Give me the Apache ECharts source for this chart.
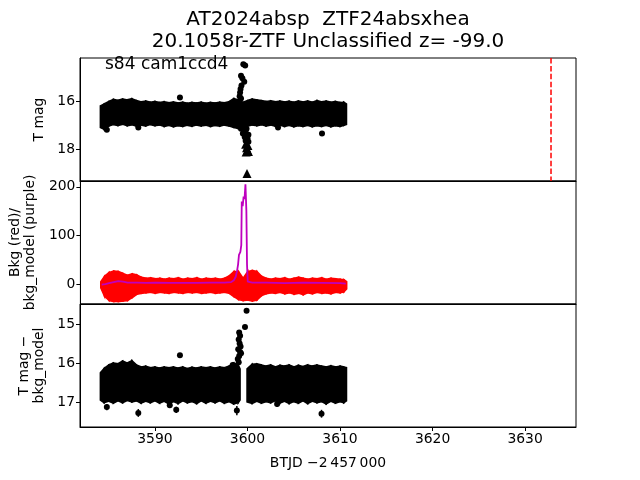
<!DOCTYPE html>
<html><head><meta charset="utf-8">
<script src="https://cdn.jsdelivr.net/npm/echarts@6/dist/echarts.min.js"></script>
<style>html,body{margin:0;padding:0;background:#fff}#c{width:640px;height:480px}</style>
</head><body><div id="c"></div>
<script>
// ---- data ----
var xTicks = [3590, 3600, 3610, 3620, 3630];
var topTicks = [16, 18];
var midTicks = [0, 100, 200];
var botTicks = [15, 16, 17];

// top panel: dense photometry band (time, bright edge, faint edge)
var topT = [3584.1,3584.5,3585.0,3585.5,3586.0,3586.5,3587.0,3587.5,3588.0,3588.5,3589.0,3589.5,3590.0,3590.5,3591.0,3591.5,3592.0,3592.5,3593.0,3593.5,3594.0,3594.5,3595.0,3595.5,3596.0,3596.5,3597.0,3597.5,3598.0,3598.5,3599.0,3599.5,3600.0,3600.5,3601.0,3601.5,3602.0,3602.5,3603.0,3603.5,3604.0,3604.5,3605.0,3605.5,3606.0,3606.5,3607.0,3607.5,3608.0,3608.5,3609.0,3609.5,3610.0,3610.4,3610.7];
var topUp = [16.2,16.12,16.02,15.93,15.97,15.92,15.95,15.9,15.98,16.03,16.0,16.05,16.02,16.06,16.03,16.07,16.04,16.08,16.05,16.09,16.06,16.08,16.05,16.09,16.06,16.08,16.05,16.07,16.03,15.9,15.95,16.05,15.98,15.92,15.95,15.98,16.02,15.99,16.03,16.0,16.04,16.01,16.05,16.0,16.04,16.0,16.05,15.98,16.03,16.0,16.05,16.02,16.06,16.05,16.12];
var topLo = [17.1,17.18,17.05,16.98,17.02,16.97,17.03,16.99,17.05,17.0,17.04,16.98,17.03,17.0,17.06,17.02,17.07,17.03,17.06,17.01,17.05,17.0,17.04,17.01,17.06,17.02,17.05,17.0,17.04,17.1,17.15,17.1,17.05,17.0,17.03,16.99,17.04,17.0,17.05,17.01,17.06,17.02,17.07,17.03,17.06,17.02,17.07,17.03,17.06,17.02,17.07,17.03,17.06,17.02,16.98];
// top panel: individual points (time, mag, err)
var topPts = [[3592.7,15.85,0.05],[3588.2,17.1,0.08],[3584.8,17.2,0.08],[3603.3,17.1,0.06],[3608.05,17.35,0.1],
  [3599.55,14.47,0.03],[3599.75,14.52,0.03],[3599.3,14.95,0.04],[3599.45,15.05,0.04],[3599.65,15.2,0.05],[3599.35,15.35,0.05],[3599.25,15.5,0.05],[3599.2,15.65,0.05],[3599.15,15.8,0.06],[3599.3,15.9,0.06],
  [3599.3,17.15,0.1],[3599.6,17.2,0.1],[3599.9,17.15,0.1],[3599.5,17.35,0.1],[3599.85,17.35,0.1],[3600.1,17.4,0.1],[3599.7,17.5,0.1],[3600.0,17.55,0.1],[3599.8,17.65,0.1],[3600.1,17.7,0.1]];
var topLim = [[3599.8,17.8],[3600.05,17.85],[3599.9,17.95],[3600.0,18.05],[3599.85,18.12],[3600.1,18.1],[3599.95,19.02]];
var markerT = [3632.8];

// middle panel: background (red band) and background model (purple line)
var midT = topT;
var bkgUp = [5,16,24,27,26,22,18,21,19,14,12,13,11,12,10,12,11,13,10,12,11,13,10,12,11,12,10,12,17,26,26,12,26,28,26,16,12,10,12,11,13,10,12,14,12,10,12,11,13,10,12,11,10,9,5];
var bkgLo = [-8,-25,-34,-36,-36,-35,-34,-28,-21,-19,-18,-17,-19,-17,-18,-19,-17,-18,-19,-17,-18,-17,-19,-18,-17,-19,-18,-17,-19,-26,-32,-34,-33,-35,-33,-24,-20,-18,-19,-17,-20,-18,-21,-19,-22,-18,-20,-17,-19,-18,-20,-17,-18,-16,-10];
var modelT = [3584.2,3584.6,3585.0,3585.5,3586.0,3586.5,3587.0,3588.0,3589.0,3590.0,3591.5,3593.0,3594.5,3596.0,3597.5,3598.2,3598.5,3598.7,3598.85,3598.95,3599.05,3599.2,3599.3,3599.35,3599.45,3599.55,3599.65,3599.75,3599.85,3599.92,3600.0,3600.5,3602.0,3604.0,3606.0,3608.0,3610.0,3610.6];
var modelV = [-1,0,2,4,6,5,3,3,2.5,3,2.5,2.5,2.5,3,3,4,8,15,28,40,60,66,80,170,160,180,175,205,150,40,5,3,3,2,3,2.5,2,1];

// bottom panel: background-subtracted band, two segments around the gap
var botTA = [3584.1,3584.5,3585.0,3585.5,3586.0,3586.5,3587.0,3587.5,3588.0,3588.5,3589.0,3589.5,3590.0,3590.5,3591.0,3591.5,3592.0,3592.5,3593.0,3593.5,3594.0,3594.5,3595.0,3595.5,3596.0,3596.5,3597.0,3597.5,3598.0,3598.5,3599.0,3599.2];
var botUpA = [16.25,16.14,16.05,16.0,16.02,15.95,16.0,15.94,16.05,16.1,16.08,16.12,16.1,16.13,16.1,16.12,16.1,16.13,16.1,16.14,16.11,16.13,16.1,16.12,16.1,16.13,16.1,16.12,16.08,16.0,16.05,16.15];
var botLoA = [16.95,17.02,16.98,17.03,16.97,17.02,16.96,17.0,16.97,17.03,16.98,17.02,16.97,17.03,16.98,17.05,16.99,17.04,16.97,17.02,16.99,17.04,16.97,17.03,16.98,17.02,16.97,17.03,16.99,17.05,17.02,16.95];
var botTB = [3599.95,3600.5,3601.0,3601.5,3602.0,3602.5,3603.0,3603.5,3604.0,3604.5,3605.0,3605.5,3606.0,3606.5,3607.0,3607.5,3608.0,3608.5,3609.0,3609.5,3610.0,3610.4,3610.7];
var botUpB = [16.15,16.03,16.02,16.05,16.08,16.05,16.1,16.06,16.08,16.05,16.1,16.06,16.09,16.05,16.08,16.05,16.08,16.1,16.07,16.1,16.08,16.1,16.12];
var botLoB = [17.0,17.04,16.98,17.03,16.99,17.02,16.97,17.03,16.98,17.04,16.99,17.03,16.97,17.04,16.98,17.02,16.99,17.05,16.98,17.03,16.99,17.02,16.97];
var botPts = [[3592.7,15.8,0.05],[3588.2,17.28,0.1],[3584.8,17.13,0.08],[3591.6,17.08,0.06],[3592.3,17.2,0.08],[3598.85,17.22,0.12],[3603.2,17.05,0.08],[3608.0,17.3,0.1],
  [3599.9,14.66,0.03],[3599.73,15.08,0.04],[3599.1,15.22,0.05],[3599.2,15.3,0.05],[3599.05,15.4,0.05],[3599.15,15.5,0.05],[3599.25,15.58,0.05],[3599.0,15.65,0.05],[3599.2,15.72,0.05],[3599.3,15.75,0.05],[3599.1,15.82,0.05],[3598.95,15.9,0.05],[3599.05,15.98,0.05],[3598.4,16.05,0.05]];

// ---- chart ----
var X0 = 3581.9, X1 = 3635.5;
var FS = 13.9, FF = 'DejaVu Sans';
function bandItems(t, up, lo){ var a=[]; for(var i=0;i<t.length;i++) a.push([t[i], up[i], lo[i]]); return a; }
function bandSeries(items, xi, color){
  return {type:'custom', xAxisIndex:xi, yAxisIndex:xi, clip:true, silent:true,
    data: items,
    renderItem: function(params, api){
      var i = params.dataIndex;
      if (i >= items.length-1) return null;
      var a = items[i], b = items[i+1];
      var p = [api.coord([a[0],a[1]]), api.coord([b[0],b[1]]), api.coord([b[0],b[2]]), api.coord([a[0],a[2]])];
      return {type:'polygon', shape:{points:p}, style:{fill:color, stroke:color, lineWidth:1.5}};
    }};
}
function errSeries(pts, xi){
  return {type:'custom', xAxisIndex:xi, yAxisIndex:xi, clip:true, silent:true, data: pts,
    renderItem: function(params, api){
      var t=api.value(0), m=api.value(1), e=api.value(2);
      var p1=api.coord([t,m-e]), p2=api.coord([t,m+e]);
      return {type:'line', shape:{x1:p1[0],y1:p1[1],x2:p2[0],y2:p2[1]}, style:{stroke:'#000', lineWidth:1.5}};
    }};
}
function plain(v){ return String(v); }
function xAxis(gi, labels){
  return {type:'value', gridIndex:gi, min:X0, max:X1, splitLine:{show:false},
    axisLine:{show:true, onZero:false, lineStyle:{color:'#000'}},
    axisTick:{show:labels, customValues:xTicks, length:4, lineStyle:{color:'#000'}},
    axisLabel:{show:labels, customValues:xTicks, formatter:plain, color:'#000', fontSize:FS, fontFamily:FF, margin:5}};
}
function yAxis(gi, min, max, inv, ticks, name, gap){
  return {type:'value', gridIndex:gi, min:min, max:max, inverse:inv, splitLine:{show:false},
    axisLine:{show:true, onZero:false, lineStyle:{color:'#000'}},
    axisTick:{show:true, customValues:ticks, length:4, lineStyle:{color:'#000'}},
    axisLabel:{customValues:ticks, formatter:plain, color:'#000', fontSize:FS, fontFamily:FF, margin:5},
    name:name, nameLocation:'middle', nameGap:gap, nameRotate:90,
    nameTextStyle:{color:'#000', fontSize:FS, fontFamily:FF, lineHeight:15}};
}
var chart = echarts.init(document.getElementById('c'), null, {renderer:'canvas'});
var txt = {fontFamily:FF, fill:'#000'};
chart.setOption({
  animation:false,
  backgroundColor:'#fff',
  grid:[
    {left:80, top:58, width:496, height:123, show:true, borderColor:'#000', borderWidth:1, backgroundColor:'transparent'},
    {left:80, top:181, width:496, height:123, show:true, borderColor:'#000', borderWidth:1, backgroundColor:'transparent'},
    {left:80, top:304, width:496, height:123, show:true, borderColor:'#000', borderWidth:1, backgroundColor:'transparent'}
  ],
  xAxis:[xAxis(0,false), xAxis(1,false), xAxis(2,true)],
  yAxis:[
    yAxis(0, 14.21, 19.33, true, topTicks, 'T mag', 32),
    yAxis(1, -41, 212, false, midTicks, 'Bkg (red)/\nbkg_model (purple)', 37),
    yAxis(2, 14.49, 17.64, true, botTicks, 'T mag \u2212\nbkg_model', 32)
  ],
  graphic:[
    {type:'text', style:Object.assign({text:'AT2024absp  ZTF24absxhea', x:328, y:20, textAlign:'center', textVerticalAlign:'middle', fontSize:20}, txt)},
    {type:'text', style:Object.assign({text:'20.1058r-ZTF Unclassified z= -99.0', x:328, y:42, textAlign:'center', textVerticalAlign:'middle', fontSize:20}, txt)},
    {type:'text', z:100, style:Object.assign({text:'s84 cam1ccd4', x:105, y:65, textAlign:'left', textVerticalAlign:'middle', fontSize:17}, txt)},
    {type:'text', style:Object.assign({text:'BTJD \u22122\u2009457\u2009000', x:328, y:463, textAlign:'center', textVerticalAlign:'middle', fontSize:FS}, txt)}
  ],
  series:[
    bandSeries(bandItems(topT, topUp, topLo), 0, '#000'),
    errSeries(topPts, 0),
    {type:'scatter', xAxisIndex:0, yAxisIndex:0, symbolSize:6, itemStyle:{color:'#000', opacity:1}, data: topPts.map(function(p){return [p[0],p[1]];}), silent:true},
    {type:'scatter', xAxisIndex:0, yAxisIndex:0, symbol:'triangle', symbolSize:9, itemStyle:{color:'#000', opacity:1}, data: topLim, silent:true},
    {type:'line', xAxisIndex:0, yAxisIndex:0, symbol:'none', silent:true, data:[[markerT[0],14.21],[markerT[0],19.33]], lineStyle:{color:'#ff0000', width:1.5, type:[5.5,2.4]}},
    bandSeries(bandItems(midT, bkgUp, bkgLo), 1, '#ff0000'),
    {type:'line', xAxisIndex:1, yAxisIndex:1, symbol:'none', silent:true, data: modelT.map(function(t,i){return [t, modelV[i]];}), lineStyle:{color:'#bf00bf', width:1.8}},
    bandSeries(bandItems(botTA, botUpA, botLoA), 2, '#000'),
    bandSeries(bandItems(botTB, botUpB, botLoB), 2, '#000'),
    errSeries(botPts, 2),
    {type:'scatter', xAxisIndex:2, yAxisIndex:2, symbolSize:6, itemStyle:{color:'#000', opacity:1}, data: botPts.map(function(p){return [p[0],p[1]];}), silent:true}
  ]
});
</script></body></html>
